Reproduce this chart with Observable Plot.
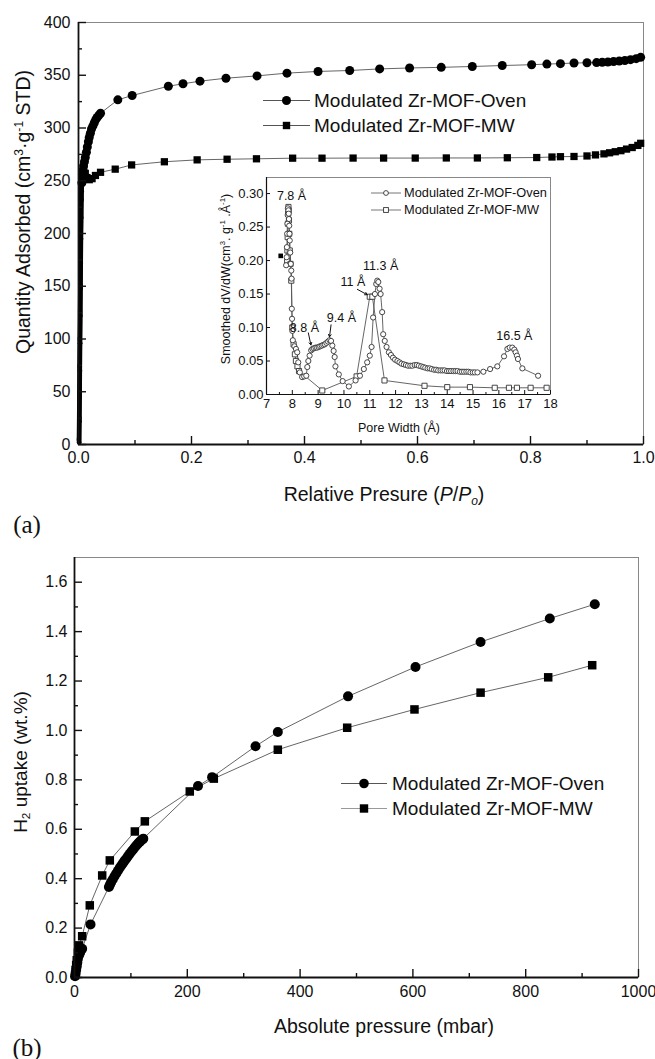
<!DOCTYPE html>
<html><head><meta charset="utf-8">
<script src="https://cdn.jsdelivr.net/npm/d3@7"></script>
<script src="https://cdn.jsdelivr.net/npm/@observablehq/plot@0.6"></script>
<style>
body{margin:0;background:#fff;}
#wrap{position:relative;width:655px;height:1059px;background:#fff;font-family:"Liberation Sans",Arial,sans-serif;color:#111;overflow:hidden}
#wrap svg{position:absolute;overflow:visible}
.lab{position:absolute;white-space:nowrap;transform:translate(-50%,-50%);line-height:1}
.rot{transform:translate(-50%,-50%) rotate(-90deg)}
.lab sup{font-size:62%;vertical-align:0.6em;line-height:0}
.lab sub{font-size:62%;vertical-align:-0.3em;line-height:0}
.serif{font-family:"Liberation Serif","Times New Roman",serif}
.leg{position:absolute;display:flex;align-items:center;white-space:nowrap;transform:translateY(-50%);line-height:1}
.leg svg{position:static !important}
</style></head><body><div id="wrap"></div>
<script>
// ---------- Data: panel (a) N2 isotherm ----------
const seriesNames = ["Modulated Zr-MOF-Oven", "Modulated Zr-MOF-MW"];

const ovenLowP = [0.0012,0.0016,0.002,0.0024,0.0028,0.0032,0.0036,0.004,0.0044,0.0048,0.0052,0.0055,0.0058];
const ovenLowQ = [2,22,45,70,96,122,148,172,195,215,232,240,246];
const ovenP = [0.006,0.007,0.008,0.009,0.0105,0.012,0.014,0.0156,0.0175,0.019,0.021,0.023,0.0255,0.028,0.0305,0.033,0.036,0.039,0.0696,0.095,0.159,0.185,0.215,0.261,0.316,0.369,0.424,0.480,0.533,0.586,0.642,0.697,0.750,0.802,0.829,0.853,0.877,0.900,0.917,0.927,0.937,0.947,0.957,0.967,0.977,0.987,0.995];
const ovenQ = [248,256,260,264,268,272,277,282,287,291,295,299,302,305,308,310,312,314,326.7,330.8,339.6,341.9,344.4,347.2,349.4,352,353.6,354.5,356,356.9,357.5,358.3,359.2,360,360.6,361,361.6,361.8,362,362.3,362.6,363,363.5,364,364.8,365.7,367];

const mwLowP = [0.0008,0.0012,0.0016,0.002,0.0024,0.0028,0.0032,0.0036,0.004,0.0044,0.0048,0.005];
const mwLowQ = [4,25,49,74,100,126,151,175,198,218,235,243];
const mwP = [0.0055,0.007,0.009,0.012,0.015,0.019,0.024,0.03,0.039,0.065,0.094,0.152,0.210,0.263,0.315,0.379,0.431,0.486,0.540,0.596,0.651,0.706,0.759,0.811,0.838,0.853,0.877,0.900,0.915,0.93,0.94,0.95,0.96,0.97,0.98,0.99,0.995];
const mwQ = [250,256,260,257,253,251,252,255,258,261,265,268,269.8,270.4,270.8,271.4,271.4,271.5,271.5,271.5,271.6,271.6,271.8,272,272.5,272.8,273,273.5,274.5,275.5,276.5,277.5,278.5,280,281.5,283.5,285.5];

const topXDomain = [0, 1];
const topYDomain = [0, 400];
const topXMajor = [0, 0.2, 0.4, 0.6, 0.8, 1.0];
const topXMinor = [0.1, 0.3, 0.5, 0.7, 0.9];
const topYMajor = [0, 50, 100, 150, 200, 250, 300, 350, 400];
const topYMinor = [25, 75, 125, 175, 225, 275, 325, 375];

// ---------- Data: inset pore size distribution ----------
const insetOvenW = [7.76,7.78,7.79,7.80,7.81,7.82,7.83,7.85,7.86,7.87,7.88,7.89,7.90,7.92,7.94,7.96,7.97,7.98,7.99,8.00,8.02,
  8.08,8.14,8.19,8.23,8.29,8.38,8.46,8.54,8.58,8.62,8.67,8.73,
  8.78,8.84,8.90,8.96,9.02,9.08,9.14,9.20,9.26,9.32,9.38,9.44,9.50,9.55,9.60,9.64,9.67,9.80,9.95,10.19,
  10.45,10.62,10.77,10.90,11.00,11.07,11.13,11.20,11.25,11.29,11.33,11.38,11.42,11.48,11.52,11.58,11.65,
  11.74,11.82,11.90,11.98,12.07,12.15,12.23,12.32,12.40,12.48,12.57,12.65,12.74,12.82,12.90,12.99,13.07,13.15,13.24,13.32,13.40,13.49,13.57,13.65,13.74,13.82,13.90,13.99,14.07,14.15,14.24,14.32,14.40,14.49,14.57,14.65,14.74,14.82,14.90,14.99,15.07,15.17,
  15.40,15.66,15.94,16.20,16.33,16.42,16.52,16.60,16.65,16.70,16.74,16.91,17.52];
const insetOvenV = [0.193,0.205,0.220,0.240,0.255,0.268,0.278,0.275,0.270,0.262,0.252,0.240,0.230,0.212,0.195,0.185,0.173,0.128,0.113,0.095,0.081,
  0.072,0.068,0.063,0.048,0.033,0.026,0.027,0.028,0.041,0.050,0.058,0.066,
  0.068,0.069,0.070,0.070,0.071,0.072,0.073,0.074,0.075,0.077,0.079,0.081,0.080,0.073,0.065,0.056,0.042,0.030,0.020,0.012,
  0.021,0.028,0.038,0.048,0.058,0.071,0.115,0.150,0.165,0.170,0.168,0.158,0.150,0.123,0.090,0.080,0.071,
  0.063,0.059,0.055,0.052,0.050,0.048,0.046,0.045,0.044,0.043,0.043,0.043,0.044,0.044,0.043,0.042,0.041,0.040,0.039,0.039,0.038,0.037,0.037,0.036,0.036,0.036,0.036,0.035,0.035,0.035,0.035,0.035,0.035,0.034,0.034,0.034,0.034,0.034,0.033,0.033,0.033,0.033,
  0.034,0.038,0.042,0.057,0.068,0.070,0.070,0.067,0.063,0.058,0.053,0.039,0.028];
const insetMwW = [7.80,7.81,7.82,7.83,7.84,7.85,7.86,7.87,7.88,7.90,7.93,7.96,8.00,8.05,8.10,8.14,8.20,8.26,9.16,10.49,11.00,11.10,11.57,13.12,14.00,14.88,15.84,16.39,16.70,17.23,17.85];
const insetMwV = [0.200,0.215,0.235,0.255,0.270,0.280,0.275,0.260,0.240,0.215,0.195,0.170,0.100,0.075,0.060,0.050,0.042,0.035,0.006,0.027,0.146,0.146,0.021,0.013,0.011,0.011,0.010,0.010,0.010,0.010,0.010];
const insetMarkW = [7.55];
const insetMarkV = [0.207];

const annoText = ["7.8 Å", "8.8 Å", "9.4 Å", "11 Å", "11.3 Å", "16.5 Å"];
const annoW = [7.97, 8.47, 9.90, 10.35, 11.42, 16.60];
const annoV = [0.297, 0.0995, 0.1145, 0.1676, 0.1925, 0.088];
const arrowW1 = [8.62, 9.50, 10.52];
const arrowV1 = [0.092, 0.104, 0.157];
const arrowW2 = [8.72, 9.44, 10.90];
const arrowV2 = [0.074, 0.086, 0.149];

const insetXDomain = [7, 18];
const insetYDomain = [0, 0.324];
const insetXMajor = [7,8,9,10,11,12,13,14,15,16,17,18];
const insetXMinor = [7.5,8.5,9.5,10.5,11.5,12.5,13.5,14.5,15.5,16.5,17.5];
const insetYMajor = [0, 0.05, 0.10, 0.15, 0.20, 0.25, 0.30];

// ---------- Data: panel (b) H2 uptake ----------
const h2OvenP = [1,2,3,4,5,6,8,10,13.6,28.4,61,63,65,68,71,74,77,80,83,86,89,92,95,98,101,104,107,110,113,116,119,122,219,244,321,360.5,485,604.6,720,842.7,922.5];
const h2OvenU = [0.005,0.015,0.03,0.045,0.06,0.075,0.09,0.1,0.116,0.215,0.366,0.376,0.386,0.398,0.41,0.421,0.432,0.443,0.453,0.463,0.473,0.482,0.492,0.501,0.51,0.518,0.527,0.535,0.543,0.55,0.556,0.562,0.775,0.811,0.936,0.994,1.138,1.257,1.358,1.453,1.511];
const h2MwP = [1,2,3,4,6,8,13.6,27.1,49.1,62.6,107,124.7,204.4,247,360.5,483.5,602.8,720,839.9,917.9];
const h2MwU = [0.01,0.03,0.05,0.07,0.1,0.13,0.167,0.292,0.413,0.474,0.591,0.632,0.753,0.805,0.922,1.011,1.085,1.153,1.215,1.264];

const botXDomain = [0, 1000];
const botYDomain = [0, 1.7];
const botXMajor = [0, 200, 400, 600, 800, 1000];
const botXMinor = [100, 300, 500, 700, 900];
const botYMajor = [0, 0.2, 0.4, 0.6, 0.8, 1.0, 1.2, 1.4, 1.6];
const botYMinor = [0.1, 0.3, 0.5, 0.7, 0.9, 1.1, 1.3, 1.5];

// ---------- helpers ----------
const pts = (xs, ys) => xs.map((x, i) => ({x, y: ys[i]}));
const wrap = document.getElementById("wrap");

// Ticks point inward: draw outward-length ticks and shift them back across the axis line.
function axes(o) {
  const tickX = (vals, len) => Plot.axisX(vals, {tickSize: len, dy: -len, tickFormat: () => "", label: null, stroke: "#111", strokeWidth: o.tw});
  const tickY = (vals, len) => Plot.axisY(vals, {tickSize: len, dx: len, tickFormat: () => "", label: null, stroke: "#111", strokeWidth: o.tw});
  return [
    Plot.ruleX([o.xd[0]], {stroke: "#111", strokeWidth: o.aw}),
    Plot.ruleY([o.yd[0]], {stroke: "#111", strokeWidth: o.aw}),
    Plot.axisX(o.xMaj, {tickSize: 0, tickPadding: o.padX, tickFormat: o.xFmt, fontSize: o.fs, label: null}),
    Plot.axisY(o.yMaj, {tickSize: 0, tickPadding: o.padY, tickFormat: o.yFmt, fontSize: o.fs, label: null}),
    tickX(o.xMaj, o.major),
    tickY(o.yMaj, o.major),
    ...(o.xMin ? [tickX(o.xMin, o.minor)] : []),
    ...(o.yMin ? [tickY(o.yMin, o.minor)] : [])
  ];
}

function place(svg, left, top) {
  svg.style.left = left + "px";
  svg.style.top = top + "px";
  wrap.appendChild(svg);
}

const styleBase = {background: "transparent", fontFamily: "'Liberation Sans', Arial, sans-serif", color: "#111", overflow: "visible"};

// ---------- Panel (a) ----------
const topPlot = Plot.plot({
  width: 655, height: 490, marginLeft: 78, marginRight: 12, marginTop: 22, marginBottom: 46,
  x: {domain: topXDomain}, y: {domain: topYDomain},
  style: styleBase,
  marks: [
    Plot.frame({stroke: "#888", strokeWidth: 1}),
    Plot.line(pts(mwLowP.concat(mwP), mwLowQ.concat(mwQ)), {x: "x", y: "y", stroke: "#666", strokeWidth: 1}),
    Plot.line(pts(ovenLowP.concat(ovenP), ovenLowQ.concat(ovenQ)), {x: "x", y: "y", stroke: "#666", strokeWidth: 1}),
    // the densely sampled steep rise merges into a solid black band
    Plot.line(pts(mwLowP, mwLowQ), {x: "x", y: "y", stroke: "#000", strokeWidth: 4.5}),
    Plot.line(pts(ovenLowP, ovenLowQ), {x: "x", y: "y", stroke: "#000", strokeWidth: 4.5}),
    Plot.dot(pts(mwLowP, mwLowQ), {x: "x", y: "y", symbol: "square", r: 2.4, fill: "#000"}),
    Plot.dot(pts(ovenLowP, ovenLowQ), {x: "x", y: "y", symbol: "circle", r: 2.4, fill: "#000"}),
    Plot.dot(pts(mwP, mwQ), {x: "x", y: "y", symbol: "square", r: 4.1, fill: "#000"}),
    Plot.dot(pts(ovenP, ovenQ), {x: "x", y: "y", symbol: "circle", r: 4.5, fill: "#000"}),
    ...axes({xd: topXDomain, yd: topYDomain, xMaj: topXMajor, yMaj: topYMajor, xMin: topXMinor, yMin: topYMinor,
      xFmt: d => d.toFixed(1), yFmt: d => String(d), fs: 16, padX: 7, padY: 8, major: 8, minor: 4, aw: 1.8, tw: 1.4})
  ]
});
place(topPlot, 0, 0);

// ---------- Inset ----------
const insetPlot = Plot.plot({
  width: 360, height: 250, marginLeft: 66, marginRight: 10, marginTop: 7, marginBottom: 26,
  x: {domain: insetXDomain}, y: {domain: insetYDomain},
  style: styleBase,
  marks: [
    Plot.frame({stroke: "#888", strokeWidth: 1}),
    Plot.line(pts(insetMwW, insetMwV), {x: "x", y: "y", stroke: "#555", strokeWidth: 0.9}),
    Plot.line(pts(insetOvenW, insetOvenV), {x: "x", y: "y", stroke: "#555", strokeWidth: 0.9}),
    Plot.dot(pts(insetMwW, insetMwV), {x: "x", y: "y", symbol: "square", r: 2.9, fill: "#fff", stroke: "#333", strokeWidth: 0.9}),
    Plot.dot(pts(insetOvenW, insetOvenV), {x: "x", y: "y", symbol: "circle", r: 2.6, fill: "#fff", stroke: "#333", strokeWidth: 0.9}),
    Plot.dot(pts(insetMarkW, insetMarkV), {x: "x", y: "y", symbol: "square", r: 2.6, fill: "#000"}),
    Plot.text(annoText.map((t, i) => ({t, x: annoW[i], y: annoV[i]})), {x: "x", y: "y", text: "t", fontSize: 12.5, fill: "#111"}),
    Plot.arrow(arrowW1.map((w, i) => ({x1: w, y1: arrowV1[i], x2: arrowW2[i], y2: arrowV2[i]})),
      {x1: "x1", y1: "y1", x2: "x2", y2: "y2", stroke: "#111", strokeWidth: 1, headLength: 4}),
    ...axes({xd: insetXDomain, yd: insetYDomain, xMaj: insetXMajor, yMaj: insetYMajor, xMin: insetXMinor, yMin: null,
      xFmt: d => String(d), yFmt: d => d.toFixed(2), fs: 13, padX: 4, padY: 3, major: 4, minor: 2, aw: 1.2, tw: 1})
  ]
});
insetPlot.style.background = "#fff";
place(insetPlot, 200, 170);

// ---------- Panel (b) ----------
const botPlot = Plot.plot({
  width: 655, height: 480, marginLeft: 74, marginRight: 17, marginTop: 27, marginBottom: 33,
  x: {domain: botXDomain}, y: {domain: botYDomain},
  style: styleBase,
  marks: [
    Plot.frame({stroke: "#888", strokeWidth: 1}),
    Plot.line(pts(h2MwP, h2MwU), {x: "x", y: "y", stroke: "#666", strokeWidth: 1}),
    Plot.line(pts(h2OvenP, h2OvenU), {x: "x", y: "y", stroke: "#666", strokeWidth: 1}),
    Plot.dot(pts(h2MwP, h2MwU), {x: "x", y: "y", symbol: "square", r: 4.8, fill: "#000"}),
    Plot.dot(pts(h2OvenP, h2OvenU), {x: "x", y: "y", symbol: "circle", r: 5, fill: "#000"}),
    ...axes({xd: botXDomain, yd: botYDomain, xMaj: botXMajor, yMaj: botYMajor, xMin: botXMinor, yMin: botYMinor,
      xFmt: d => String(d), yFmt: d => d.toFixed(1), fs: 16, padX: 8, padY: 7, major: 8, minor: 4, aw: 1.8, tw: 1.4})
  ]
});
place(botPlot, 0, 530);

// ---------- Text labels ----------
function label(html, x, y, size, cls = "") {
  const d = document.createElement("div");
  d.className = "lab " + cls;
  d.style.left = x + "px"; d.style.top = y + "px"; d.style.fontSize = size + "px";
  d.innerHTML = html;
  wrap.appendChild(d);
}
label("Quantity Adsorbed (cm<sup>3</sup>·g<sup>-1</sup> STD)", 24, 212, 19.5, "rot");
label("Relative Presure (<i>P</i>/<i>P</i><sub><i>o</i></sub>)", 384, 495, 19.5);
label("(a)", 27, 524, 25, "serif");
label("Smoothed dV/dW(cm<sup>3</sup>. g<sup>-1</sup> .Å<sup>-1</sup>)", 226, 279, 12.5, "rot");
label("Pore Width (Å)", 399, 428, 12.5);
label("H<sub>2</sub> uptake (wt.%)", 20, 762, 19, "rot");
label("Absolute pressure (mbar)", 384, 1027, 19.5);
label("(b)", 27, 1047, 25, "serif");

// ---------- Legends ----------
function symbolSvg(kind, w, h, size, hollow, lineColor) {
  const c = w / 2, m = h / 2;
  const fill = hollow ? "#fff" : "#000";
  const sw = hollow ? 0.9 : 0;
  const mk = kind === "circle"
    ? `<circle cx="${c}" cy="${m}" r="${size}" fill="${fill}" stroke="#333" stroke-width="${sw}"/>`
    : `<rect x="${c - size}" y="${m - size}" width="${2 * size}" height="${2 * size}" fill="${fill}" stroke="#333" stroke-width="${sw}"/>`;
  return `<svg width="${w}" height="${h}"><line x1="0" x2="${w}" y1="${m}" y2="${m}" stroke="${lineColor}" stroke-width="1"/>${mk}</svg>`;
}
function legend(left, tops, fontSize, symW, sizes, hollow, gap, lineColors) {
  seriesNames.forEach((name, i) => {
    const d = document.createElement("div");
    d.className = "leg";
    d.style.left = left + "px"; d.style.top = tops[i] + "px"; d.style.fontSize = fontSize + "px";
    d.innerHTML = symbolSvg(i === 0 ? "circle" : "square", symW, 14, sizes[i], hollow, lineColors[i]) +
      `<span style="margin-left:${gap}px">${name}</span>`;
    wrap.appendChild(d);
  });
}
legend(263, [100, 125], 19, 47, [4.5, 3.7], false, 4, ["#555", "#555"]);
legend(371, [193, 210], 12.8, 30, [2.4, 2.4], true, 3, ["#777", "#777"]);
legend(341, [783, 808], 19, 46, [4.8, 4.2], false, 5, ["#555", "#999"]);
</script></body></html>
